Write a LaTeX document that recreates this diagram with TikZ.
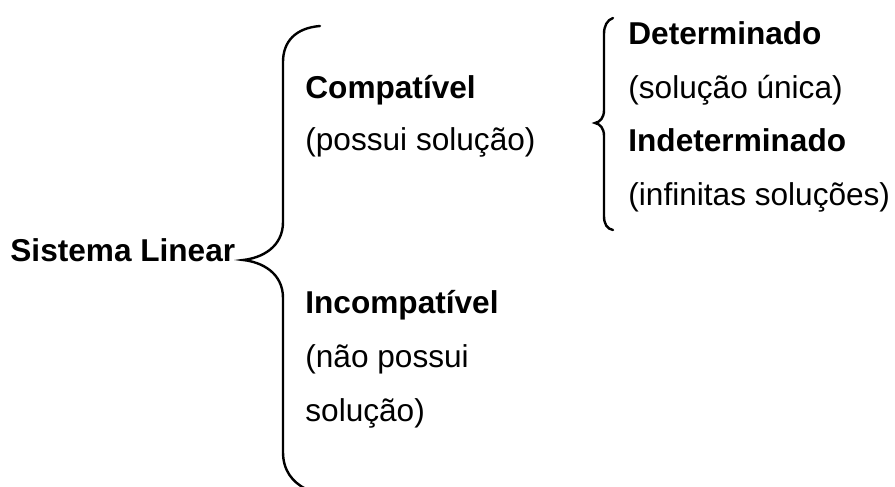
\documentclass[tikz,border=0pt]{standalone}
\usepackage{fontspec}
\setmainfont{Liberation Sans}
\begin{document}
\begin{tikzpicture}[x=0.5pt,y=-0.5pt,
  lbl/.style={anchor=base west,inner sep=0pt,font=\fontsize{15.8pt}{18pt}\selectfont},
  bold/.style={lbl,font=\fontsize{15.8pt}{18pt}\selectfont\bfseries},
  brace/.style={draw=black,line width=1.2pt,line cap=round}]
\useasboundingbox (0,0) rectangle (895,487);
\node[bold] (sl) at (10,261) {Sistema Linear};
\node[bold] (comp) at (305,98) {Compatível};
\node[lbl] (compd) at (305,150) {(possui solução)};
\node[bold] (inc) at (305,313) {Incompatível};
\node[lbl] (incd1) at (305,367) {(não possui};
\node[lbl] (incd2) at (305,421) {solução)};
\node[bold] (det) at (628,44) {Determinado};
\node[lbl] (detd) at (628,98) {(solução única)};
\node[bold] (ind) at (628,151) {Indeterminado};
\node[lbl] (indd) at (628,205) {(infinitas soluções)};
\coordinate (bt) at (320,26);
\coordinate (btip) at (243,260);
\coordinate (bb) at (306,489);
\draw[brace] (bt) .. controls (295,28) and (283,42) .. (283,62) -- (283,222)
  .. controls (283,247) and (262,258) .. (btip)
  .. controls (262,262) and (283,273) .. (283,298) -- (283,452)
  .. controls (283,470) and (292,482) .. (bb);
\coordinate (st) at (613,18);
\coordinate (stip) at (595,123);
\coordinate (sb) at (613,230);
\draw[brace] (st) .. controls (607,20) and (604,26) .. (604,34) -- (604,110)
  .. controls (604,118) and (600,122) .. (stip)
  .. controls (600,124) and (604,128) .. (604,136) -- (604,216)
  .. controls (604,224) and (607,229) .. (sb);
\end{tikzpicture}
\end{document}
